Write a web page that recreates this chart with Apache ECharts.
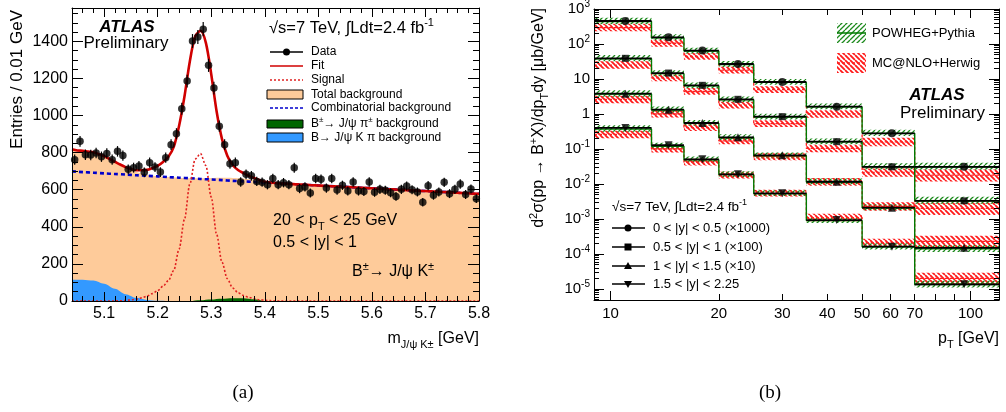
<!DOCTYPE html>
<html><head><meta charset="utf-8">
<script src="https://cdn.jsdelivr.net/npm/echarts@6/dist/echarts.min.js"></script>
<style>html,body{margin:0;padding:0;background:#fff}#c{width:1006px;height:412px}</style>
</head><body><div id="c"></div>
<script>
// ---------------- Panel (a): B+ -> J/psi K+ mass fit ----------------
const massTicks = [5.1, 5.2, 5.3, 5.4, 5.5, 5.6, 5.7, 5.8];
const entryTicks = [0, 200, 400, 600, 800, 1000, 1200, 1400];

const dataMass = [5.045,5.055,5.065,5.075,5.085,5.095,5.105,5.115,5.125,5.135,5.145,5.155,5.165,5.175,5.185,5.195,5.205,5.215,5.225,5.235,5.245,5.255,5.265,5.275,5.285,5.295,5.305,5.315,5.325,5.335,5.345,5.355,5.365,5.375,5.385,5.395,5.405,5.415,5.425,5.435,5.445,5.455,5.465,5.475,5.485,5.495,5.505,5.515,5.525,5.535,5.545,5.555,5.565,5.575,5.585,5.595,5.605,5.615,5.625,5.635,5.645,5.655,5.665,5.675,5.685,5.695,5.705,5.715,5.725,5.735,5.745,5.755,5.765,5.775,5.785,5.795];
const dataEntries = [762,861,789,787,798,778,796,762,807,784,710,719,728,694,746,722,695,773,843,902,1037,1186,1402,1423,1466,1271,1148,943,843,740,746,642,683,675,645,641,627,660,627,638,627,719,606,615,582,660,656,609,660,598,624,593,642,593,590,642,586,602,597,584,564,602,620,600,588,532,622,570,588,640,579,602,631,574,604,552];

const fitMass = [5.04,5.05,5.06,5.07,5.08,5.09,5.10,5.11,5.12,5.13,5.14,5.15,5.16,5.17,5.18,5.19,5.20,5.21,5.22,5.23,5.24,5.25,5.26,5.27,5.28,5.29,5.30,5.31,5.32,5.33,5.34,5.35,5.36,5.37,5.38,5.39,5.40,5.41,5.42,5.43,5.44,5.45,5.46,5.47,5.48,5.49,5.50,5.51,5.52,5.53,5.54,5.55,5.56,5.57,5.58,5.59,5.60,5.61,5.62,5.63,5.64,5.65,5.66,5.67,5.68,5.69,5.70,5.71,5.72,5.73,5.74,5.75,5.76,5.77,5.78,5.79,5.80];
const fitCurve = [818,812,810,806,802,792,781,766,751,736,722,712,705,705,707,717,729,750,778,831,945,1103,1292,1427,1457,1392,1223,1023,874,783,733,706,690,675,663,652,643,639,636,634,633,631,629,628,626,624,623,621,620,618,617,615,614,612,611,609,608,606,605,603,602,600,599,597,596,594,593,591,590,588,587,585,584,582,581,579,578];
const signalCurve = [0,0,0,0,0,0,0,0,0,1,3,6,10,17,26,40,56,80,110,165,280,440,630,765,795,730,560,360,210,120,70,45,30,20,12,7,4,2,0,0,0,0,0,0,0,0,0,0,0,0,0,0,0,0,0,0,0,0,0,0,0,0,0,0,0,0,0,0,0,0,0,0,0,0,0,0,0];

const bkgMass = [5.04,5.06,5.08,5.10,5.12,5.14,5.16,5.18,5.20,5.22,5.24,5.26,5.28,5.30,5.32,5.34,5.36,5.38,5.40,5.42,5.44,5.46,5.48,5.50,5.52,5.54,5.56,5.58,5.60,5.62,5.64,5.66,5.68,5.70,5.72,5.74,5.76,5.78,5.80];
const totalBkg = [814,810,802,781,751,719,695,681,673,668,665,662,662,663,664,663,660,651,639,636,633,629,626,623,620,617,614,611,608,605,602,599,596,593,590,587,584,581,578];
const combBkg = [699,695,692,688,685,682,678,675,672,668,665,662,658,655,652,648,645,642,639,636,633,629,626,623,620,617,614,611,608,605,602,599,596,593,590,587,584,581,578];
const kpiBkg = [115,115,110,93,66,37,17,6,1,0,0,0,0,0,0,0,0,0,0,0,0,0,0,0,0,0,0,0,0,0,0,0,0,0,0,0,0,0,0];
const piBkg = [0,0,0,0,0,0,0,0,0,0,0,0,4,8,12,15,15,9,0,0,0,0,0,0,0,0,0,0,0,0,0,0,0,0,0,0,0,0,0];

// ---------------- Panel (b): B+ differential cross section ----------------
const ptEdges = [9, 13, 16, 20, 25, 35, 50, 70, 120];
const ptCenters = [11.0, 14.5, 18.0, 22.6, 30.0, 42.5, 60.5, 96.0];
const ptLabels = [10, 20, 30, 40, 50, 60, 70, 100];
const ptMajorTicks = [10, 100];
const ptMinorTicks = [20, 30, 40, 50, 60, 70, 80, 90];
const decadeTicks = [1e-5, 1e-4, 1e-3, 1e-2, 1e-1, 1, 10, 100, 1000];

const rapidityNames = ['0 < |y| < 0.5 (×1000)', '0.5 < |y| < 1 (×100)', '1 < |y| < 1.5 (×10)', '1.5 < |y| < 2.25'];
const xsecY1 = [454, 155, 65, 26.8, 8.2, 1.62, 0.28, 0.031];
const xsecY2 = [39, 14.8, 6.6, 2.63, 0.84, 0.162, 0.031, 0.0033];
const xsecY3 = [3.8, 1.33, 0.553, 0.215, 0.066, 0.0116, 0.0021, 0.00015];
const xsecY4 = [0.40, 0.128, 0.0508, 0.0189, 0.0054, 0.00093, 0.000162, 0.0000136];

const powhegY1 = [440, 150, 63, 26, 8.0, 1.6, 0.28, 0.031];
const powhegY2 = [38, 14.2, 6.4, 2.55, 0.82, 0.16, 0.031, 0.0033];
const powhegY3 = [3.7, 1.3, 0.54, 0.21, 0.064, 0.0114, 0.0021, 0.00014];
const powhegY4 = [0.37, 0.12, 0.049, 0.0185, 0.0053, 0.0009, 0.00016, 0.0000135];
const powhegErrDown = [0.16, 0.15, 0.15, 0.15, 0.15, 0.15, 0.16, 0.18];
const powhegErrUp = [0.28, 0.26, 0.25, 0.25, 0.25, 0.25, 0.26, 0.30];

const mcnloY1 = [295, 105, 44, 18, 5.0, 1.0, 0.16, 0.018];
const mcnloY2 = [25, 10.7, 4.4, 1.8, 0.53, 0.104, 0.0215, 0.002];
const mcnloY3 = [2.6, 1.0, 0.41, 0.17, 0.06, 0.0115, 0.0023, 0.00023];
const mcnloY4 = [0.26, 0.10, 0.042, 0.018, 0.0055, 0.0011, 0.00021, 0.00002];
const mcnloErrDown = [0.22, 0.20, 0.20, 0.20, 0.20, 0.22, 0.25, 0.35];
const mcnloErrUp = [0.28, 0.25, 0.25, 0.25, 0.25, 0.28, 0.30, 0.45];

// ---------------- helpers ----------------
const FONT = "'Liberation Sans', Arial, Helvetica, sans-serif";
const SERIF = "'Liberation Serif', 'Times New Roman', serif";
const zip = (xs, ys) => xs.map((x, i) => [x, ys[i]]);

function hatch(color, dir, lw, s) {
  const c = document.createElement('canvas'); c.width = s; c.height = s;
  const g = c.getContext('2d'); g.strokeStyle = color; g.lineWidth = lw;
  g.beginPath();
  for (let k = -1; k <= 1; k++) {
    if (dir > 0) { g.moveTo(k * s, s); g.lineTo(k * s + s, 0); }
    else { g.moveTo(k * s, 0); g.lineTo(k * s + s, s); }
  }
  g.stroke();
  return c;
}
const greenHatch = { image: hatch('#1d8a1d', 1, 1.3, 5), repeat: 'repeat' };
const redHatch = { image: hatch('#ff1a1a', -1, 1.8, 5), repeat: 'repeat' };

function richFor(base) {
  const s = Math.round(base * 0.68);
  return {
    sup: { fontSize: s, fontFamily: FONT, fill: '#000', color: '#000', verticalAlign: 'top', lineHeight: s + 2 },
    sub: { fontSize: s, fontFamily: FONT, fill: '#000', color: '#000', verticalAlign: 'bottom', lineHeight: s + 2 }
  };
}

const massMinor = []; for (let i = 0; i <= 38; i++) massMinor.push(+(5.04 + 0.02 * i).toFixed(2));
const entryMinor = []; for (let v = 0; v <= 1550; v += 50) entryMinor.push(v);
const logMinor = [];
for (let e = -6; e <= 2; e++) for (let k = 2; k <= 9; k++) { const v = k * Math.pow(10, e); if (v > 4.85e-6 && v < 1000) logMinor.push(v); }

function tickAxis(base, pos, ticks, len, withLine) {
  return Object.assign({}, base, {
    position: pos, z: 10,
    axisLine: { show: withLine, onZero: false, lineStyle: { color: '#000', width: 1 } },
    axisTick: { show: true, inside: true, length: len, customValues: ticks, lineStyle: { color: '#000', width: 1 } },
    axisLabel: { show: false }, splitLine: { show: false }, minorTick: { show: false }
  });
}

const lx = { gridIndex: 0, type: 'value', min: 5.04, max: 5.8 };
const ly = { gridIndex: 0, type: 'value', min: 0, max: 1580 };
const rx = { gridIndex: 1, type: 'log', logBase: 10, min: 9, max: 120 };
const ry = { gridIndex: 1, type: 'log', logBase: 10, min: 4.85e-6, max: 1000 };

const xAxes = [
  Object.assign(tickAxis(lx, 'bottom', massTicks, 9, true), {
    axisLabel: { show: true, customValues: massTicks, formatter: v => v.toFixed(1), fontSize: 16, fontFamily: FONT, color: '#000', margin: 5 }
  }),
  tickAxis(lx, 'top', massTicks, 9, true),
  tickAxis(lx, 'bottom', massMinor, 5, false),
  tickAxis(lx, 'top', massMinor, 5, false),
  Object.assign(tickAxis(rx, 'bottom', ptMajorTicks, 9, true), {
    axisLabel: { show: true, customValues: ptLabels, formatter: v => String(Math.round(v)), fontSize: 15, fontFamily: FONT, color: '#000', margin: 6 }
  }),
  tickAxis(rx, 'top', ptMajorTicks, 9, true),
  tickAxis(rx, 'bottom', ptMinorTicks, 6, false),
  tickAxis(rx, 'top', ptMinorTicks, 6, false)
];

function logFmt(v) {
  const e = Math.round(Math.log10(v));
  if (e === 0) return '1';
  if (e === 1) return '10';
  return '10{sup|' + e + '}';
}

const yAxes = [
  Object.assign(tickAxis(ly, 'left', entryTicks, 11, true), {
    axisLabel: { show: true, customValues: entryTicks, formatter: v => String(Math.round(v)), fontSize: 16, fontFamily: FONT, color: '#000', margin: 4 }
  }),
  tickAxis(ly, 'right', entryTicks, 11, true),
  tickAxis(ly, 'left', entryMinor, 6, false),
  tickAxis(ly, 'right', entryMinor, 6, false),
  Object.assign(tickAxis(ry, 'left', decadeTicks, 10, true), {
    axisLabel: { show: true, customValues: decadeTicks, formatter: logFmt, fontSize: 15, fontFamily: FONT, color: '#000', margin: 4, lineHeight: 20, rich: { sup: { fontSize: 10, fontFamily: FONT, color: '#000', verticalAlign: 'top', lineHeight: 11 } } }
  }),
  tickAxis(ry, 'right', decadeTicks, 10, true),
  tickAxis(ry, 'left', logMinor, 5, false),
  tickAxis(ry, 'right', logMinor, 5, false)
];

// ---------------- series ----------------
const series = [];
const L = { xAxisIndex: 0, yAxisIndex: 0 };
series.push(Object.assign({ name: 'Total background', type: 'line', data: zip(bkgMass, totalBkg), symbol: 'none', smooth: 0.3, lineStyle: { width: 0 }, areaStyle: { color: '#fecb9a', opacity: 1 }, z: 1, silent: true }, L));
series.push(Object.assign({ name: 'B→ J/ψ K π background', type: 'line', data: zip(bkgMass, kpiBkg), symbol: 'none', smooth: 0.3, smoothMonotone: 'x', lineStyle: { width: 0 }, areaStyle: { color: '#3399ff', opacity: 1 }, z: 2, silent: true }, L));
series.push(Object.assign({ name: 'B± → J/ψ π± background', type: 'line', data: zip(bkgMass, piBkg), symbol: 'none', smooth: 0.3, smoothMonotone: 'x', lineStyle: { width: 0 }, areaStyle: { color: '#006600', opacity: 1 }, z: 2, silent: true }, L));
series.push(Object.assign({ name: 'Combinatorial background', type: 'line', data: zip(bkgMass, combBkg), symbol: 'none', smooth: 0.3, lineStyle: { color: '#0000cc', width: 2.6, type: [4, 3] }, z: 3, silent: true }, L));
series.push(Object.assign({ name: 'Signal', type: 'line', data: zip(fitMass, signalCurve), symbol: 'none', smooth: 0.3, smoothMonotone: 'x', lineStyle: { color: '#e02020', width: 1.6, type: [2, 2] }, z: 4, silent: true }, L));
series.push(Object.assign({ name: 'Fit', type: 'line', data: zip(fitMass, fitCurve), symbol: 'none', smooth: 0.3, lineStyle: { color: '#d00000', width: 2.6 }, z: 5, silent: true }, L));
series.push(Object.assign({ name: 'Data errors', type: 'custom', data: zip(dataMass, dataEntries), z: 6, silent: true,
  renderItem: (p, api) => {
    const x = api.value(0), v = api.value(1), e = Math.sqrt(v);
    const a = api.coord([x, v - e]), b = api.coord([x, v + e]);
    return { type: 'line', shape: { x1: a[0], y1: a[1], x2: b[0], y2: b[1] }, style: { stroke: '#000', lineWidth: 1.2 } };
  } }, L));
series.push(Object.assign({ name: 'Data', type: 'scatter', data: zip(dataMass, dataEntries), symbol: 'circle', symbolSize: 7.5, itemStyle: { color: '#000' }, z: 7, silent: true }, L));

const R = { xAxisIndex: 4, yAxisIndex: 4 };
const xsec = [xsecY1, xsecY2, xsecY3, xsecY4];
const powheg = [powhegY1, powhegY2, powhegY3, powhegY4];
const mcnlo = [mcnloY1, mcnloY2, mcnloY3, mcnloY4];
const symbols = ['circle', 'rect', 'triangle', 'triangle'];
const symRot = [0, 0, 0, 180];

function bandItems(central, dn, up) {
  const out = [];
  central.forEach(arr => arr.forEach((v, j) => out.push([ptEdges[j], ptEdges[j + 1], v * (1 - dn[j]), v * (1 + up[j])])));
  return out;
}
function bandRender(fill) {
  return (p, api) => {
    const a = api.coord([api.value(0), api.value(3)]);
    const b = api.coord([api.value(1), api.value(2)]);
    return { type: 'rect', shape: { x: a[0], y: a[1], width: b[0] - a[0], height: b[1] - a[1] }, style: { fill: fill } };
  };
}
series.push(Object.assign({ name: 'MC@NLO+Herwig', type: 'custom', data: bandItems(mcnlo, mcnloErrDown, mcnloErrUp), renderItem: bandRender(redHatch), z: 2, silent: true, clip: true }, R));
series.push(Object.assign({ name: 'POWHEG+Pythia', type: 'custom', data: bandItems(powheg, powhegErrDown, powhegErrUp), renderItem: bandRender(greenHatch), z: 3, silent: true, clip: true }, R));
const stepData = arr => ptEdges.map((e, i) => [e, arr[Math.min(i, arr.length - 1)]]);
mcnlo.forEach((arr, r) => series.push(Object.assign({ name: 'MC@NLO ' + r, type: 'line', step: 'end', data: stepData(arr), symbol: 'none', lineStyle: { color: '#ff2020', width: 1.3, type: [3, 2] }, z: 4, silent: true }, R)));
powheg.forEach((arr, r) => series.push(Object.assign({ name: 'POWHEG ' + r, type: 'line', step: 'end', data: stepData(arr), symbol: 'none', lineStyle: { color: '#007a00', width: 1.4 }, z: 5, silent: true }, R)));
const dataBins = [];
xsec.forEach(arr => arr.forEach((v, j) => dataBins.push([ptEdges[j], ptEdges[j + 1], v])));
series.push(Object.assign({ name: 'Data bins', type: 'custom', data: dataBins, z: 6, silent: true,
  renderItem: (p, api) => {
    const a = api.coord([api.value(0), api.value(2)]), b = api.coord([api.value(1), api.value(2)]);
    return { type: 'line', shape: { x1: a[0], y1: a[1], x2: b[0], y2: b[1] }, style: { stroke: '#000', lineWidth: 1.8 } };
  } }, R));
xsec.forEach((arr, r) => series.push(Object.assign({ name: rapidityNames[r], type: 'scatter', data: zip(ptCenters, arr), symbol: symbols[r], symbolRotate: symRot[r], symbolSize: r === 1 ? 7 : 8, itemStyle: { color: '#000' }, z: 7, silent: true }, R)));

// ---------------- annotations / legends / titles ----------------
const G = [];
function txt(x, y, text, o) {
  const base = o && o.fontSize ? o.fontSize : 12;
  return { type: 'text', x: x, y: y, z: 100, silent: true, rotation: (o && o.rot) || 0,
    style: Object.assign({ text: text, fill: '#000', fontFamily: FONT, fontSize: 12, align: 'left', verticalAlign: 'middle', rich: richFor(base), lineHeight: Math.round(base * 1.35) }, o || {}) };
}
function ln(x1, y1, x2, y2, stroke, w, dash) {
  return { type: 'line', z: 100, silent: true, shape: { x1, y1, x2, y2 }, style: { stroke, lineWidth: w, lineDash: dash || null } };
}
function box(x, y, w, h, fill, stroke) {
  return { type: 'rect', z: 100, silent: true, shape: { x, y, width: w, height: h }, style: { fill, stroke: stroke || null, lineWidth: 1 } };
}
// axis titles
G.push(txt(479, 339, 'm{sub|J/ψ K±} [GeV]', { fontSize: 16, align: 'right' }));
G.push(txt(999, 339, 'p{sub|T} [GeV]', { fontSize: 16, align: 'right' }));
G.push(txt(17, 10, 'Entries / 0.01 GeV', { fontSize: 17, align: 'right', rot: Math.PI / 2 }));
G.push(txt(539, 8, 'd{sup|2}σ(pp → B{sup|+}X)/dp{sub|T}dy [μb/GeV]', { fontSize: 16, align: 'right', rot: Math.PI / 2 }));
// left panel legend
G.push(ln(270, 52, 303, 52, '#000', 1.5), { type: 'circle', z: 101, silent: true, shape: { cx: 286.5, cy: 52, r: 3.5 }, style: { fill: '#000' } }, txt(311, 52, 'Data'));
G.push(ln(270, 66, 303, 66, '#d00000', 1.5), txt(311, 66, 'Fit'));
G.push(ln(270, 80, 303, 80, '#e02020', 1.5, [2, 2]), txt(311, 80, 'Signal'));
G.push(box(267, 90, 36, 9, '#fecb9a', '#000'), txt(311, 94.5, 'Total background'));
G.push(ln(270, 108, 303, 108, '#0000cc', 1.5, [3, 2]), txt(311, 108, 'Combinatorial background'));
G.push(box(267, 120, 36, 8, '#006600', '#000'), txt(311, 123.5, 'B{sup|±}→ J/ψ π{sup|±} background'));
G.push(box(267, 133, 36, 9, '#3399ff', '#000'), txt(311, 137.5, 'B→ J/ψ K π background'));
G.push(txt(127, 27, 'ATLAS', { fontSize: 17, fontWeight: 'bold', fontStyle: 'italic', align: 'center' }));
G.push(txt(126, 43, 'Preliminary', { fontSize: 17, align: 'center' }));
G.push(txt(269, 28, '√s=7 TeV, ∫Ldt=2.4 fb{sup|-1}', { fontSize: 16.5 }));
G.push(txt(273, 221, '20 < p{sub|T} < 25 GeV', { fontSize: 16 }));
G.push(txt(273, 243, '0.5 < |y| < 1', { fontSize: 16 }));
G.push(txt(352, 272, 'B{sup|±}→ J/ψ K{sup|±}', { fontSize: 16 }));
// right panel legend
G.push(box(837, 23, 29, 20, greenHatch, null), ln(837, 33, 866, 33, '#007a00', 1.5), txt(872, 33, 'POWHEG+Pythia', { fontSize: 13 }));
G.push(box(837, 53, 29, 20, redHatch, null), ln(837, 63, 866, 63, '#ff2020', 1.3, [3, 2]), txt(872, 63, 'MC@NLO+Herwig', { fontSize: 13 }));
G.push(txt(937, 95, 'ATLAS', { fontSize: 17, fontWeight: 'bold', fontStyle: 'italic', align: 'center' }));
G.push(txt(985, 113, 'Preliminary', { fontSize: 17, align: 'right' }));
G.push(txt(612, 207, '√s=7 TeV, ∫Ldt=2.4 fb{sup|-1}', { fontSize: 13.5 }));
const legY = [228, 247, 266, 284];
const legShapes = [
  y => ({ type: 'circle', shape: { cx: 628, cy: y, r: 3.5 } }),
  y => ({ type: 'rect', shape: { x: 624.5, y: y - 3.5, width: 7, height: 7 } }),
  y => ({ type: 'polygon', shape: { points: [[628, y - 4], [632, y + 3], [624, y + 3]] } }),
  y => ({ type: 'polygon', shape: { points: [[628, y + 4], [632, y - 3], [624, y - 3]] } })
];
legY.forEach((y, r) => {
  G.push(ln(612, y, 645, y, '#000', 1.5));
  G.push(Object.assign(legShapes[r](y), { z: 101, silent: true, style: { fill: '#000' } }));
  G.push(txt(653, y, rapidityNames[r], { fontSize: 13 }));
});
G.push(txt(243, 393, '(a)', { fontSize: 19, fontFamily: SERIF, align: 'center' }));
G.push(txt(770, 393, '(b)', { fontSize: 19, fontFamily: SERIF, align: 'center' }));

const chart = echarts.init(document.getElementById('c'), null, { renderer: 'canvas', width: 1006, height: 412 });
chart.setOption({
  animation: false,
  backgroundColor: '#fff',
  textStyle: { fontFamily: FONT },
  grid: [
    { left: 72, top: 8, width: 407, height: 293, containLabel: false, outerBoundsMode: 'none' },
    { left: 594, top: 9, width: 405, height: 291, containLabel: false, outerBoundsMode: 'none' }
  ],
  xAxis: xAxes,
  yAxis: yAxes,
  series: series,
  graphic: G
});
</script>
</body></html>
